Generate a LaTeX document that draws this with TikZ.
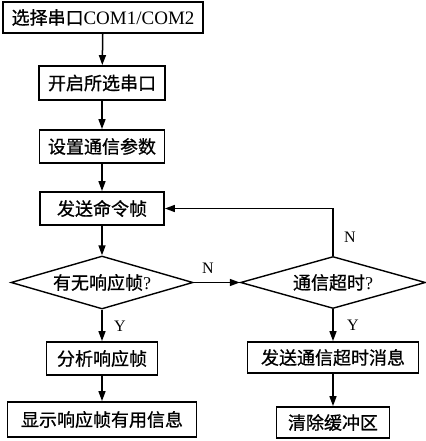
\documentclass[tikz,border=0pt]{standalone}
\usepackage{fontspec}
\setmainfont{Liberation Serif}
\newfontfamily\cjk[FakeBold=0.8]{Noto Sans CJK SC}
\usetikzlibrary{shapes.geometric,arrows.meta}
\tikzset{
  pbox/.style={draw,line width=1.8pt,inner sep=0pt,font=\cjk\fontsize{18}{20}\selectfont},
  dbox/.style={diamond,draw,line width=1.4pt,inner sep=0pt,aspect=3.4,font=\cjk\fontsize{18}{20}\selectfont},
  arr/.style={line width=1.5pt,-{Triangle[length=10pt,width=7pt]}},
  lbl/.style={font=\fontsize{16}{18}\selectfont}
}
\begin{document}
\begin{tikzpicture}[x=1pt,y=-1pt]
\useasboundingbox (0,0) rectangle (425,441);
\node[pbox,minimum width=200pt,minimum height=31pt] (b1) at (103,17.5) {选择串口\fontspec{Liberation Serif}\fontsize{19}{20}\selectfont COM1/COM2};
\node[pbox,minimum width=126pt,minimum height=34pt] (b2) at (102,83) {开启所选串口};
\node[pbox,minimum width=125pt,minimum height=33pt] (b3) at (102,146.5) {设置通信参数};
\node[pbox,minimum width=124pt,minimum height=33pt] (b4) at (102,208.5) {发送命令帧};
\node[dbox,minimum width=182pt,minimum height=53pt] (d1) at (102,282.5) {有无响应帧\fontspec{Liberation Serif}?};
\node[dbox,minimum width=185pt,minimum height=52pt] (d2) at (333,282.5) {通信超时\fontspec{Liberation Serif}?};
\node[pbox,minimum width=111pt,minimum height=33pt] (b5) at (102,358.5) {分析响应帧};
\node[pbox,minimum width=189pt,minimum height=35pt] (b6) at (102,419.5) {显示响应帧有用信息};
\node[pbox,minimum width=171pt,minimum height=31pt] (b7) at (333,357.5) {发送通信超时消息};
\node[pbox,minimum width=113pt,minimum height=31pt] (b8) at (333,422.5) {清除缓冲区};
\draw[arr] (b1) -- (b2);
\draw[arr] (b2) -- (b3);
\draw[arr] (b3) -- (b4);
\draw[arr] (b4) -- (d1);
\draw[arr] (d1) -- (b5);
\draw[arr] (b5) -- (b6);
\draw[arr] (d1.east) -- (d2.west);
\draw[arr] (d2) -- (b7);
\draw[arr] (b7) -- (b8);
\draw[arr] (d2.north) |- (b4.east);
\node[lbl] (n1) at (208,268) {N};
\node[lbl] (n2) at (350,237) {N};
\node[lbl] (y1) at (120,326) {Y};
\node[lbl] (y2) at (353,325) {Y};
\end{tikzpicture}
\end{document}
